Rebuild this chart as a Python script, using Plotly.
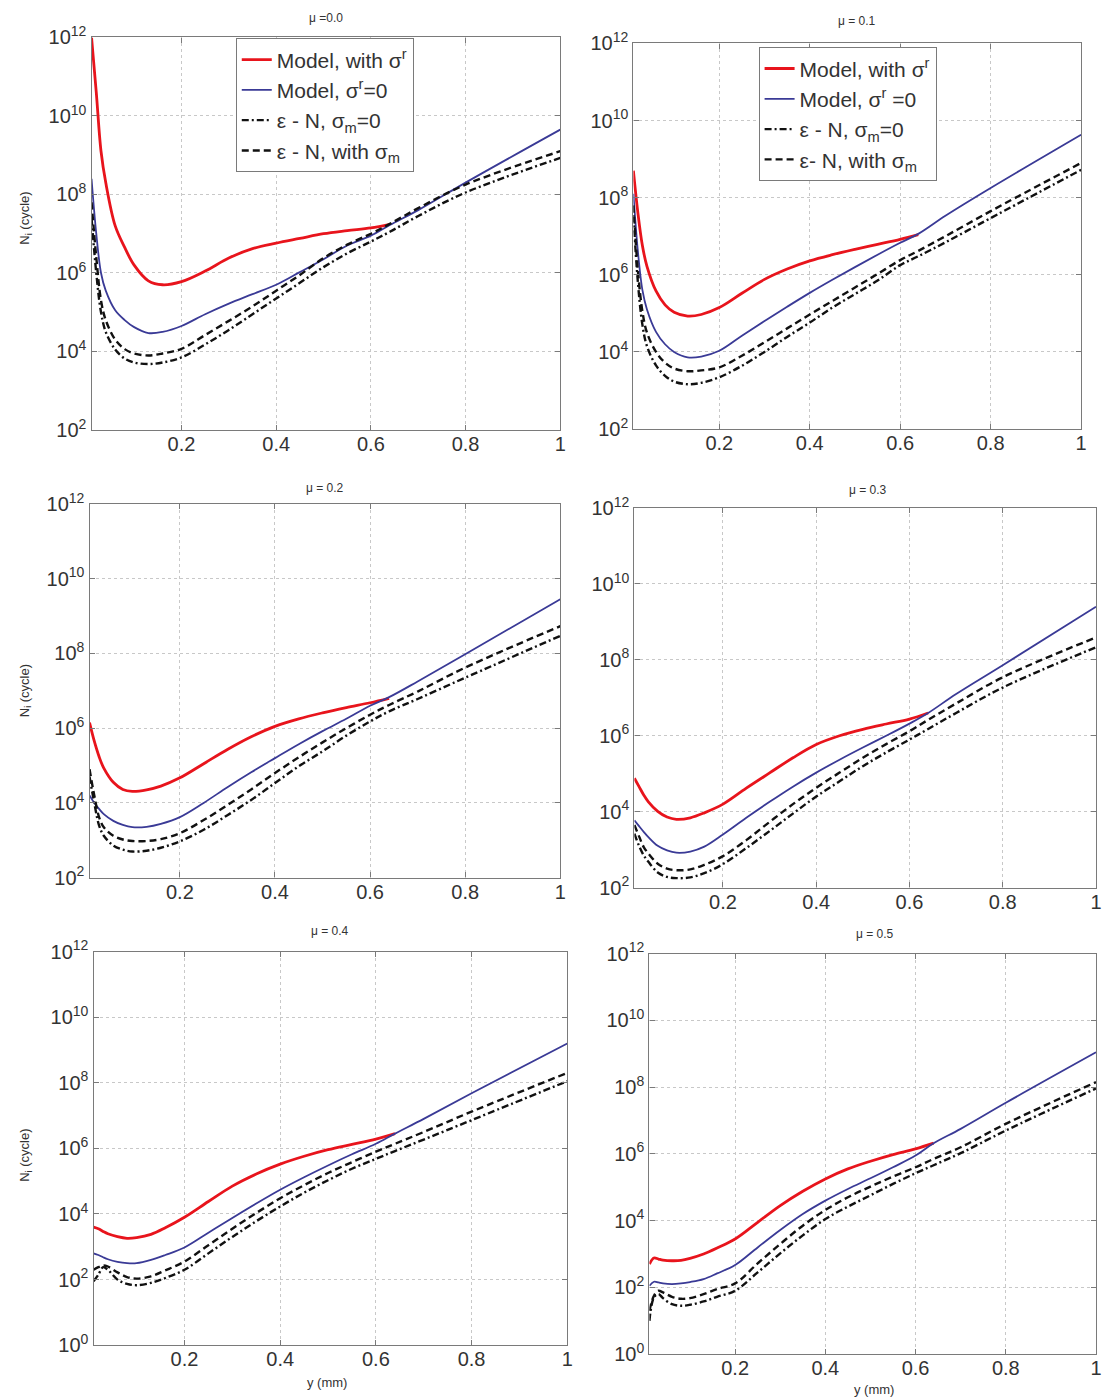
import plotly.graph_objects as go

W, H = 1102, 1399

# ---------------- data ----------------
Y_MM = [0.01, 0.02, 0.03, 0.04, 0.06, 0.08, 0.1, 0.13, 0.16, 0.2, 0.25, 0.3,
        0.35, 0.4, 0.45, 0.5, 0.55, 0.6, 0.64, 0.7, 0.8, 1.0]
Y_MM_RED = Y_MM[:19]   # the "with sigma_r" curve merges with sigma_r=0 at ~0.64 mm

MU_TITLES = ["\u03bc =0.0", "\u03bc = 0.1", "\u03bc = 0.2", "\u03bc = 0.3", "\u03bc = 0.4", "\u03bc = 0.5"]

# mu = 0.0
MU00_MODEL_SR = [1.0e12, 3.98e10, 1.26e9, 2.0e8, 1.58e7, 4.47e6, 1.58e6, 6.31e5, 5.01e5, 6.03e5,
                 1.12e6, 2.40e6, 4.17e6, 5.75e6, 7.59e6, 1.0e7, 1.20e7, 1.41e7, 1.74e7]
MU00_MODEL_0 = [2.51e8, 1.0e7, 1.0e6, 3.55e5, 1.12e5, 6.31e4, 4.17e4, 2.95e4, 3.16e4, 4.47e4, 8.91e4,
                1.66e5, 2.88e5, 5.01e5, 1.05e6, 2.24e6, 5.01e6, 8.91e6, 1.66e7, 3.98e7, 2.0e8, 4.47e9]
MU00_EN_SM0 = [2.51e7, 1.0e6, 1.0e5, 3.16e4, 1.12e4, 6.61e3, 5.25e3, 4.79e3, 5.25e3, 7.08e3, 1.51e4,
               3.55e4, 8.91e4, 2.24e5, 5.62e5, 1.41e6, 3.16e6, 6.31e6, 1.12e7, 2.82e7, 1.12e8, 8.51e8]
MU00_EN_SM = [6.31e7, 2.51e6, 2.0e5, 6.31e4, 2.0e4, 1.15e4, 8.91e3, 7.94e3, 8.91e3, 1.17e4, 2.63e4,
              6.03e4, 1.41e5, 3.55e5, 8.91e5, 2.40e6, 5.25e6, 1.0e7, 1.78e7, 4.47e7, 1.78e8, 1.26e9]

# mu = 0.1
MU01_MODEL_SR = [5.01e8, 3.98e7, 5.62e6, 1.66e6, 3.80e5, 1.66e5, 1.07e5, 8.51e4, 9.33e4, 1.41e5,
                 3.31e5, 7.59e5, 1.41e6, 2.29e6, 3.31e6, 4.57e6, 6.17e6, 8.32e6, 1.10e7]
MU01_MODEL_0 = [1.26e8, 3.98e6, 3.98e5, 1.26e5, 3.31e4, 1.58e4, 1.0e4, 7.24e3, 7.59e3, 1.07e4, 2.63e4,
                6.31e4, 1.48e5, 3.39e5, 7.41e5, 1.58e6, 3.31e6, 6.76e6, 1.15e7, 3.39e7, 1.78e8, 4.27e9]
MU01_EN_SM0 = [3.55e7, 6.31e5, 5.01e4, 1.41e4, 4.47e3, 2.40e3, 1.70e3, 1.45e3, 1.58e3, 2.19e3, 4.37e3,
               1.0e4, 2.45e4, 5.75e4, 1.41e5, 3.16e5, 7.08e5, 1.78e6, 3.02e6, 6.92e6, 2.95e7, 5.25e8]
MU01_EN_SM = [6.31e7, 1.26e6, 1.12e5, 3.16e4, 1.0e4, 5.25e3, 3.72e3, 3.16e3, 3.31e3, 3.98e3, 7.94e3,
              1.78e4, 4.07e4, 9.33e4, 2.09e5, 4.68e5, 1.05e6, 2.40e6, 4.17e6, 1.0e7, 4.47e7, 7.94e8]

# mu = 0.2
MU02_MODEL_SR = [1.41e6, 4.47e5, 1.74e5, 8.51e4, 3.55e4, 2.29e4, 2.04e4, 2.24e4, 2.82e4, 4.68e4,
                 1.12e5, 2.69e5, 5.89e5, 1.12e6, 1.78e6, 2.57e6, 3.55e6, 4.79e6, 6.31e6]
MU02_MODEL_0 = [1.58e4, 1.0e4, 6.92e3, 5.01e3, 3.31e3, 2.57e3, 2.24e3, 2.29e3, 2.75e3, 4.17e3, 1.0e4,
                2.63e4, 6.61e4, 1.58e5, 3.72e5, 8.32e5, 1.78e6, 3.98e6, 6.76e6, 1.78e7, 9.55e7, 2.82e9]
MU02_EN_SM0 = [5.01e4, 1.0e4, 2.51e3, 1.32e3, 724, 562, 501, 525, 631, 933, 1.91e3,
               4.68e3, 1.20e4, 3.39e4, 9.55e4, 2.40e5, 6.31e5, 1.51e6, 2.82e6, 6.03e6, 2.24e7, 2.95e8]
MU02_EN_SM = [7.94e4, 1.58e4, 4.17e3, 2.24e3, 1.32e3, 1.05e3, 955, 955, 1.07e3, 1.55e3, 3.47e3,
              8.71e3, 2.29e4, 6.31e4, 1.66e5, 4.17e5, 1.0e6, 2.29e6, 4.17e6, 9.55e6, 4.17e7, 5.37e8]

# mu = 0.3
MU03_MODEL_SR = [7.59e4, 4.57e4, 2.75e4, 1.82e4, 1.02e4, 7.24e3, 6.31e3, 6.92e3, 9.33e3, 1.58e4,
                 4.17e4, 1.05e5, 2.63e5, 5.89e5, 1.0e6, 1.48e6, 2.04e6, 2.75e6, 3.98e6]
MU03_MODEL_0 = [5.89e3, 4.17e3, 2.95e3, 2.14e3, 1.26e3, 955, 832, 891, 1.20e3, 2.51e3, 6.92e3,
                1.82e4, 4.57e4, 1.07e5, 2.34e5, 4.90e5, 1.0e6, 2.09e6, 3.98e6, 1.26e7, 7.24e7, 2.51e9]
MU03_EN_SM0 = [2.63e3, 1.26e3, 708, 479, 251, 191, 178, 186, 240, 417, 1.10e3,
               3.09e3, 8.91e3, 2.51e4, 6.31e4, 1.58e5, 3.63e5, 7.94e5, 1.51e6, 3.98e6, 1.86e7, 2.14e8]
MU03_EN_SM = [4.47e3, 2.24e3, 1.17e3, 794, 427, 316, 288, 302, 398, 676, 1.78e3,
              5.37e3, 1.58e4, 4.27e4, 1.07e5, 2.63e5, 6.03e5, 1.32e6, 2.63e6, 7.08e6, 3.47e7, 3.89e8]

# mu = 0.4
MU04_MODEL_SR = [3.98e3, 3.55e3, 2.95e3, 2.51e3, 2.04e3, 1.82e3, 1.91e3, 2.40e3, 3.80e3, 7.94e3,
                 2.40e4, 7.08e4, 1.66e5, 3.31e5, 5.75e5, 9.12e5, 1.32e6, 1.91e6, 2.82e6]
MU04_MODEL_0 = [631, 562, 479, 417, 347, 316, 316, 398, 562, 955, 2.69e3,
                7.59e3, 2.09e4, 5.50e4, 1.32e5, 3.02e5, 6.61e5, 1.38e6, 2.82e6, 7.94e6, 4.79e7, 1.58e9]
MU04_EN_SM0 = [89.1, 141, 240, 200, 100, 74.1, 67.6, 79.4, 112, 200, 631,
               2.0e3, 6.03e3, 1.70e4, 4.47e4, 1.07e5, 2.40e5, 4.79e5, 8.32e5, 1.86e6, 7.24e6, 1.12e8]
MU04_EN_SM = [200, 240, 269, 251, 166, 120, 107, 126, 191, 355, 1.12e3,
              3.55e3, 1.07e4, 3.02e4, 7.59e4, 1.78e5, 3.80e5, 7.94e5, 1.38e6, 3.16e6, 1.32e7, 2.0e8]

# mu = 0.5
MU05_MODEL_SR = [501, 759, 708, 661, 631, 646, 741, 1.0e3, 1.51e3, 2.82e3,
                 8.91e3, 2.82e4, 7.59e4, 1.78e5, 3.55e5, 6.03e5, 9.55e5, 1.41e6, 2.09e6]
MU05_MODEL_0 = [112, 148, 141, 132, 126, 132, 145, 178, 263, 468, 1.58e3,
                5.25e3, 1.58e4, 3.98e4, 8.91e4, 1.86e5, 3.98e5, 8.91e5, 2.09e6, 5.62e6, 3.39e7, 1.10e9]
MU05_EN_SM0 = [10.0, 50.1, 63.1, 47.9, 31.6, 28.2, 30.2, 38.0, 52.5, 79.4, 282,
               1.05e3, 3.63e3, 1.12e4, 2.63e4, 5.75e4, 1.26e5, 2.63e5, 4.57e5, 1.05e6, 5.01e6, 9.12e7]
MU05_EN_SM = [20.0, 56.2, 79.4, 70.8, 52.5, 45.7, 47.9, 63.1, 89.1, 132, 525,
              2.0e3, 7.08e3, 2.09e4, 5.01e4, 1.05e5, 2.09e5, 3.98e5, 7.08e5, 1.58e6, 7.94e6, 1.41e8]

X_TICKS = [0.2, 0.4, 0.6, 0.8, 1.0]
X_TICKTEXT = ["0.2", "0.4", "0.6", "0.8", "1"]
Y_TICKS = [1e0, 1e2, 1e4, 1e6, 1e8, 1e10, 1e12]
Y_TICKTEXT = ["10<sup>0</sup>", "10<sup>2</sup>", "10<sup>4</sup>", "10<sup>6</sup>",
              "10<sup>8</sup>", "10<sup>10</sup>", "10<sup>12</sup>"]

LEGEND_NAMES_1 = ["Model, with \u03c3<sup>r</sup>", "Model, \u03c3<sup>r</sup>=0",
                  "\u03b5 - N, \u03c3<sub>m</sub>=0", "\u03b5 - N, with \u03c3<sub>m</sub>"]
LEGEND_NAMES_2 = ["Model, with \u03c3<sup>r</sup>", "Model, \u03c3<sup>r</sup> =0",
                  "\u03b5 - N, \u03c3<sub>m</sub>=0", "\u03b5- N, with \u03c3<sub>m</sub>"]

PANEL_DATA = [
    (MU00_MODEL_SR, MU00_MODEL_0, MU00_EN_SM0, MU00_EN_SM),
    (MU01_MODEL_SR, MU01_MODEL_0, MU01_EN_SM0, MU01_EN_SM),
    (MU02_MODEL_SR, MU02_MODEL_0, MU02_EN_SM0, MU02_EN_SM),
    (MU03_MODEL_SR, MU03_MODEL_0, MU03_EN_SM0, MU03_EN_SM),
    (MU04_MODEL_SR, MU04_MODEL_0, MU04_EN_SM0, MU04_EN_SM),
    (MU05_MODEL_SR, MU05_MODEL_0, MU05_EN_SM0, MU05_EN_SM),
]
Y_LOG_MIN = [2, 2, 2, 2, 0, 0]

# ---------------- layout geometry (target pixels in the photograph) ----------------
# (left, right, top, bottom) of each plot box
BOXES = [
    (92, 560, 36, 429),
    (633, 1080, 42, 428),
    (90, 560, 503, 877),
    (634, 1100, 507, 887),
    (94, 567, 951, 1345),
    (649, 1100, 953, 1354),
]
TITLE_Y = [17, 20, 487, 489, 930, 933]

FONT = "Liberation Sans, Arial, sans-serif"
RED = "#e8141c"
BLUE = "#3a3a96"
BLACK = "#111111"


# empirical correction between requested page pixels and the photographed picture
def px_x(v):
    return ((v - 0.6) / 0.993) / W


def px_y(v):
    return 1 - ((v - 12.6) / 0.983) / H


fig = go.Figure()
layout = dict(
    width=W, height=H,
    margin=dict(l=0, r=0, t=0, b=0),
    paper_bgcolor="white", plot_bgcolor="white",
    font=dict(family=FONT, color="#333333"),
    showlegend=True,
)

styles = [
    dict(color=RED, width=2.8),
    dict(color=BLUE, width=1.8),
    dict(color=BLACK, width=2.4, dash="7px,3px,2px,3px"),
    dict(color=BLACK, width=2.4, dash="7px,4px"),
]

annotations = []
for i, (data, box) in enumerate(zip(PANEL_DATA, BOXES)):
    n = i + 1
    xa = "x" if n == 1 else f"x{n}"
    ya = "y" if n == 1 else f"y{n}"
    for k, series in enumerate(data):
        xs = Y_MM_RED if k == 0 else Y_MM
        if i == 0:
            name, leg, show = LEGEND_NAMES_1[k], "legend", True
        elif i == 1:
            name, leg, show = LEGEND_NAMES_2[k], "legend2", True
        else:
            name, leg, show = LEGEND_NAMES_1[k], "legend", False
        fig.add_trace(go.Scatter(
            x=xs, y=series, mode="lines", name=name,
            line=dict(shape="spline", smoothing=1.0, **styles[k]),
            xaxis=xa, yaxis=ya, legend=leg, showlegend=show,
        ))
    l, r, t, b = box
    axcommon = dict(
        showline=True, linecolor="#7a7a7a", linewidth=1.3, mirror="ticks",
        ticks="inside", ticklen=5, tickcolor="#7a7a7a",
        showgrid=True, gridcolor="#c8c8c8", griddash="dot", gridwidth=1,
        zeroline=False, tickfont=dict(family=FONT, size=20, color="#333333"),
    )
    layout["xaxis" if n == 1 else f"xaxis{n}"] = dict(
        axcommon, domain=[px_x(l), min(1.0, px_x(r))], anchor=ya, range=[0.01, 1.0],
        tickvals=X_TICKS, ticktext=X_TICKTEXT, ticklabelstandoff=-4,
    )
    ymin = Y_LOG_MIN[i]
    layout["yaxis" if n == 1 else f"yaxis{n}"] = dict(
        axcommon, domain=[px_y(b), px_y(t)], anchor=xa, type="log", range=[ymin, 12],
        tickvals=[v for v in Y_TICKS if v >= 10 ** ymin],
        ticktext=[tt for v, tt in zip(Y_TICKS, Y_TICKTEXT) if v >= 10 ** ymin],
    )
    annotations.append(dict(
        text=MU_TITLES[i], xref="paper", yref="paper",
        x=px_x((l + r) / 2), y=px_y(TITLE_Y[i]), xanchor="center", yanchor="middle",
        showarrow=False, font=dict(family=FONT, size=12, color="#333333"),
    ))

# y-axis titles (left column)
for yc in [217, 690, 1155]:
    annotations.append(dict(
        text="N<sub>i</sub> (cycle)", xref="paper", yref="paper",
        x=px_x(26), y=px_y(yc), xanchor="center", yanchor="middle", textangle=-90,
        showarrow=False, font=dict(family=FONT, size=13, color="#333333"),
    ))
# x-axis titles (bottom row)
for xc, yc in [(327, 1382), (873, 1389)]:
    annotations.append(dict(
        text="y (mm)", xref="paper", yref="paper",
        x=px_x(xc), y=px_y(yc), xanchor="center", yanchor="middle",
        showarrow=False, font=dict(family=FONT, size=13, color="#333333"),
    ))

legend_common = dict(
    bgcolor="white", bordercolor="#7a7a7a", borderwidth=1,
    font=dict(family=FONT, size=21, color="#333333"),
    xanchor="left", yanchor="top", itemwidth=30, tracegroupgap=0,
)
layout["legend"] = dict(legend_common, x=px_x(236), y=px_y(37))
layout["legend2"] = dict(legend_common, x=px_x(758), y=px_y(46))
layout["annotations"] = annotations

fig.update_layout(**layout)
fig.write_html("out.html")
